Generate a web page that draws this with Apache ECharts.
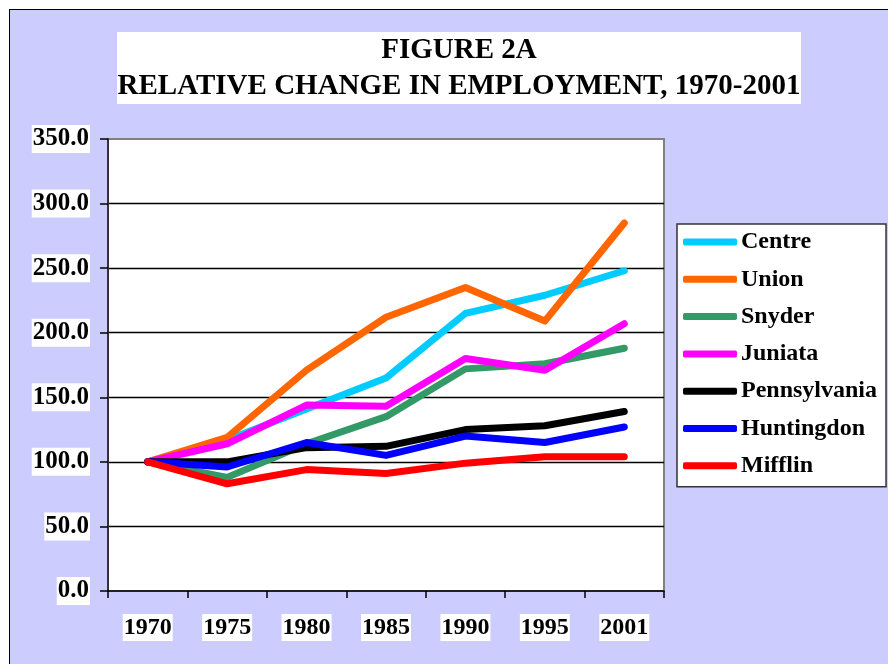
<!DOCTYPE html>
<html>
<head>
<meta charset="utf-8">
<script src="https://cdn.jsdelivr.net/npm/echarts@6/dist/echarts.min.js"></script>
<style>
html,body{margin:0;padding:0;background:#fff;}
#bg{position:absolute;left:9px;top:9px;width:900px;height:700px;background:#CCCCFF;border-left:1.5px solid #000;border-top:1.5px solid #000;}
#chart{position:absolute;left:0;top:0;width:888px;height:664px;}
</style>
</head>
<body>
<div id="bg"></div>
<div id="chart"></div>
<script>
const years = ['1970', '1975', '1980', '1985', '1990', '1995', '2001'];
const centre = [100, 117, 141, 165, 215, 229, 248];
const union = [100, 119, 171, 212, 235, 209, 285];
const snyder = [100, 88, 114, 135, 172, 176, 188];
const juniata = [100, 114, 144, 143, 180, 171, 207];
const pennsylvania = [100, 100, 111, 112, 125, 128, 139];
const huntingdon = [100, 96, 115, 105, 120, 115, 127];
const mifflin = [100, 83, 94, 91, 99, 104, 104];
const seriesNames = ['Centre', 'Union', 'Snyder', 'Juniata', 'Pennsylvania', 'Huntingdon', 'Mifflin'];
const seriesData = [centre, union, snyder, juniata, pennsylvania, huntingdon, mifflin];
const seriesColors = ['#00CCFF', '#FF6600', '#339966', '#FF00FF', '#000000', '#0000FF', '#FF0000'];
const titleLines = ['FIGURE 2A', 'RELATIVE CHANGE IN EMPLOYMENT, 1970-2001'];

const FONT = '"Liberation Serif", "Times New Roman", serif';
const chart = echarts.init(document.getElementById('chart'), null, {renderer: 'canvas'});
chart.setOption({
  backgroundColor: 'transparent',
  animation: false,
  graphic: [
    {type: 'rect', left: 117, top: 32, shape: {width: 684, height: 72}, style: {fill: '#fff'}, silent: true},
    {type: 'text', x: 459, y: 33, style: {text: titleLines.join('\n'), align: 'center', verticalAlign: 'top',
      font: 'bold 29px ' + FONT, lineHeight: 36, fill: '#000'}, silent: true}
  ],
  grid: {left: 108, top: 139, width: 556, height: 452, show: true, backgroundColor: '#fff',
    borderColor: '#808080', borderWidth: 2, containLabel: false},
  legend: {
    orient: 'vertical', left: 677, top: 224,
    backgroundColor: '#fff', borderColor: '#333', borderWidth: 1.5,
    padding: [6, 9, 9, 6], itemGap: 13.3, itemWidth: 54, itemHeight: 7,
    icon: 'roundRect',
    textStyle: {fontFamily: FONT, fontWeight: 'bold', fontSize: 24, color: '#000', lineHeight: 24, padding: [0, 0, 0, -1]},
    data: seriesNames
  },
  xAxis: {
    type: 'category', data: years, boundaryGap: true,
    axisLine: {lineStyle: {color: '#000', width: 1.5}},
    axisTick: {show: true, length: 7, lineStyle: {color: '#000', width: 1.5}},
    axisLabel: {fontFamily: FONT, fontWeight: 'bold', fontSize: 24, color: '#000', margin: 23,
      backgroundColor: '#fff', padding: [2, 1, 1, 1]},
    splitLine: {show: false}
  },
  yAxis: {
    type: 'value', min: 0, max: 350, interval: 50,
    axisLine: {show: true, lineStyle: {color: '#333', width: 2}},
    axisTick: {show: true, length: 8, lineStyle: {color: '#000', width: 1.5}},
    axisLabel: {fontFamily: FONT, fontWeight: 'bold', fontSize: 25, color: '#000', margin: 18,
      backgroundColor: '#fff', padding: [2, 1, 1, 1],
      formatter: v => v.toFixed(1)},
    splitLine: {show: true, showMinLine: false, showMaxLine: false, lineStyle: {color: '#000', width: 1.3}}
  },
  series: seriesNames.map((n, i) => ({
    name: n, type: 'line', data: seriesData[i], symbol: 'none', showSymbol: false,
    color: seriesColors[i],
    lineStyle: {color: seriesColors[i], width: 7, cap: 'round', join: 'round'},
    itemStyle: {color: seriesColors[i]},
    z: 2 + i
  }))
});
</script>
</body>
</html>
